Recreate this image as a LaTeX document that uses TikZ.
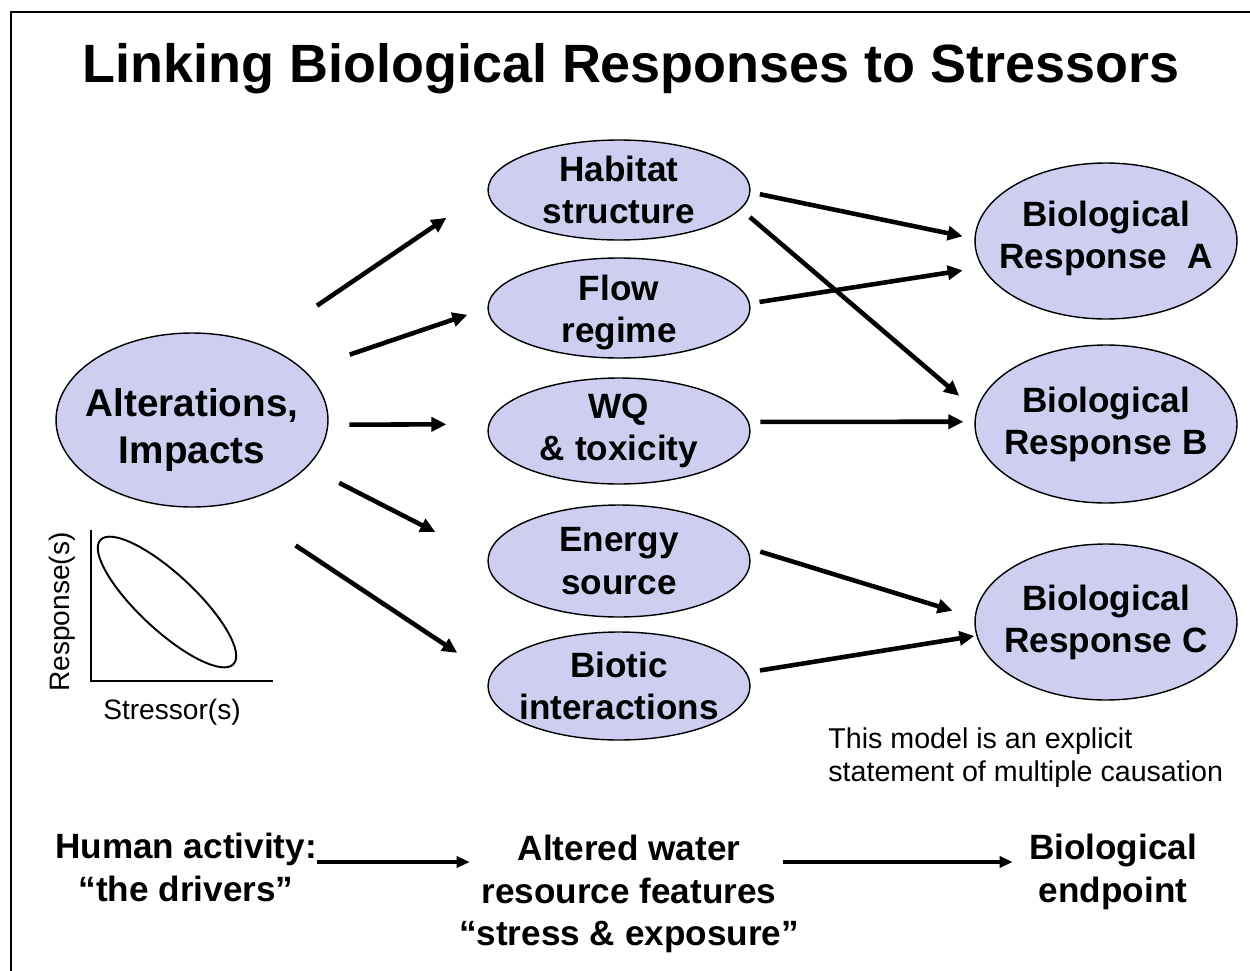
\documentclass[tikz,border=0pt]{standalone}
\usepackage{fontspec}
\setmainfont{Liberation Sans}
\usetikzlibrary{shapes.geometric, arrows.meta}

\definecolor{bubble}{RGB}{206,206,240}

\tikzset{
    bub/.style  = {ellipse, draw, fill = bubble, line width = 0.8pt, align = center,
                   inner xsep = -10pt, inner ysep = -10pt, minimum width = 5.24cm,
                   font = \bfseries\fontsize{20}{24}\selectfont},
    arr/.style  = {line width = 2.6pt, -{Triangle[length = 0.3cm, width = 0.28cm]}},
    barr/.style = {line width = 2pt, -{Triangle[length = 0.26cm, width = 0.22cm]}},
    lbl/.style  = {inner sep = 0pt, align = center, font = \bfseries\fontsize{20}{24.4}\selectfont},
    small/.style = {inner sep = 0pt, font = \fontsize{16}{18.8}\selectfont}
}

\begin{document}
\begin{tikzpicture}[x = 0.02cm, y = -0.02cm]
    \useasboundingbox (0,0) rectangle (1250,970);
    \clip (0,0) rectangle (1250,970);
    \draw [line width = 1.1pt] (11,12) rectangle (1270,990);

    \node [anchor = base, inner sep = 0pt, font = \bfseries\fontsize{30.7}{36}\selectfont] (title) at (631,82) {Linking Biological Responses to Stressors};

    \node [bub, minimum width = 5.44cm, minimum height = 3.48cm, font = \bfseries\fontsize{22}{26.7}\selectfont] (alt) at (192,420) {\rule{0pt}{27pt}Alterations,\\Impacts};

    \node [bub, minimum height = 2.00cm] (hab) at (619,190) {Habitat\\structure};
    \node [bub, minimum height = 2.00cm] (flo) at (619,308) {\rule{0pt}{20pt}Flow\\regime};
    \node [bub, minimum height = 2.12cm] (wq)  at (619,431) {WQ\\\& toxicity};
    \node [bub, minimum height = 2.24cm] (ene) at (619,561) {Energy\\source};
    \node [bub, minimum height = 2.16cm] (bio) at (619,686) {Biotic\\interactions};

    \node [bub, minimum height = 3.12cm] (ra) at (1106,241) {Biological\\Response~~A\rule[-7pt]{0pt}{7pt}};
    \node [bub, minimum height = 3.16cm] (rb) at (1106,424) {Biological\\Response B};
    \node [bub, minimum height = 3.12cm] (rc) at (1106,622) {Biological\\Response C};

    \draw [arr, shorten <= 1.37cm, shorten >= 0.99cm] (alt.48)  -- (hab.180);
    \draw [arr, shorten <= 0.96cm, shorten >= 0.42cm] (alt.24)  -- (flo.180);
    \draw [arr, shorten <= 0.42cm, shorten >= 0.84cm] (alt.358) -- (wq.177);
    \draw [arr, shorten <= 0.71cm, shorten >= 1.17cm] (alt.338) -- (ene.179);
    \draw [arr, shorten <= 1.51cm, shorten >= 0.79cm] (alt.296) -- (bio.175);

    \draw [arr, shorten <= 0.19cm, shorten >= 0.24cm] (hab.359) -- (ra.179);
    \draw [arr, shorten <= 0.24cm, shorten >= 0.45cm] (hab.351) -- (rb.174);
    \draw [arr, shorten <= 0.19cm, shorten >= 0.39cm] (flo.2)   -- (ra.192);
    \draw [arr, shorten <= 0.23cm, shorten >= 0.22cm] (wq.4)    -- (rb.179);
    \draw [arr, shorten <= 0.28cm, shorten >= 0.46cm] (ene.6)   -- (rc.178);
    \draw [arr, shorten <= 0.27cm, shorten >= 0.04cm] (bio.6)   -- (rc.186);

    % stressor-response sketch
    \draw [line width = 1.1pt] (91,530) -- (91,681) -- (273,681);
    \draw [line width = 1.1pt] (167,602) ellipse [x radius = 1.82cm, y radius = 0.56cm, rotate = -43];
    \node [small, rotate = 90] (resp) at (62,612) {Response(s)};
    \node [small] (stre) at (172,712) {Stressor(s)};

    \node [small, anchor = north west, align = left, font = \fontsize{16.3}{18.8}\selectfont] (note) at (828,727) {This model is an explicit\\statement of multiple causation};

    \node [lbl] (hum) at (186,867)  {Human activity:\\``the drivers''};
    \node [lbl] (wat) at (629,894)  {Altered water\\resource features\\``stress \& exposure''};
    \node [lbl] (end) at (1113,872) {Biological\\endpoint};

    \draw [barr] ([yshift = 1mm]hum.east) -- ([yshift = 1mm, xshift = 2.2mm]hum.east -| wat.west);
    \draw [barr, shorten >= 0.32cm] ([yshift = 1mm, xshift = -3.2mm]hum.east -| wat.east) -- ([yshift = 1mm]hum.east -| end.west);
\end{tikzpicture}
\end{document}
